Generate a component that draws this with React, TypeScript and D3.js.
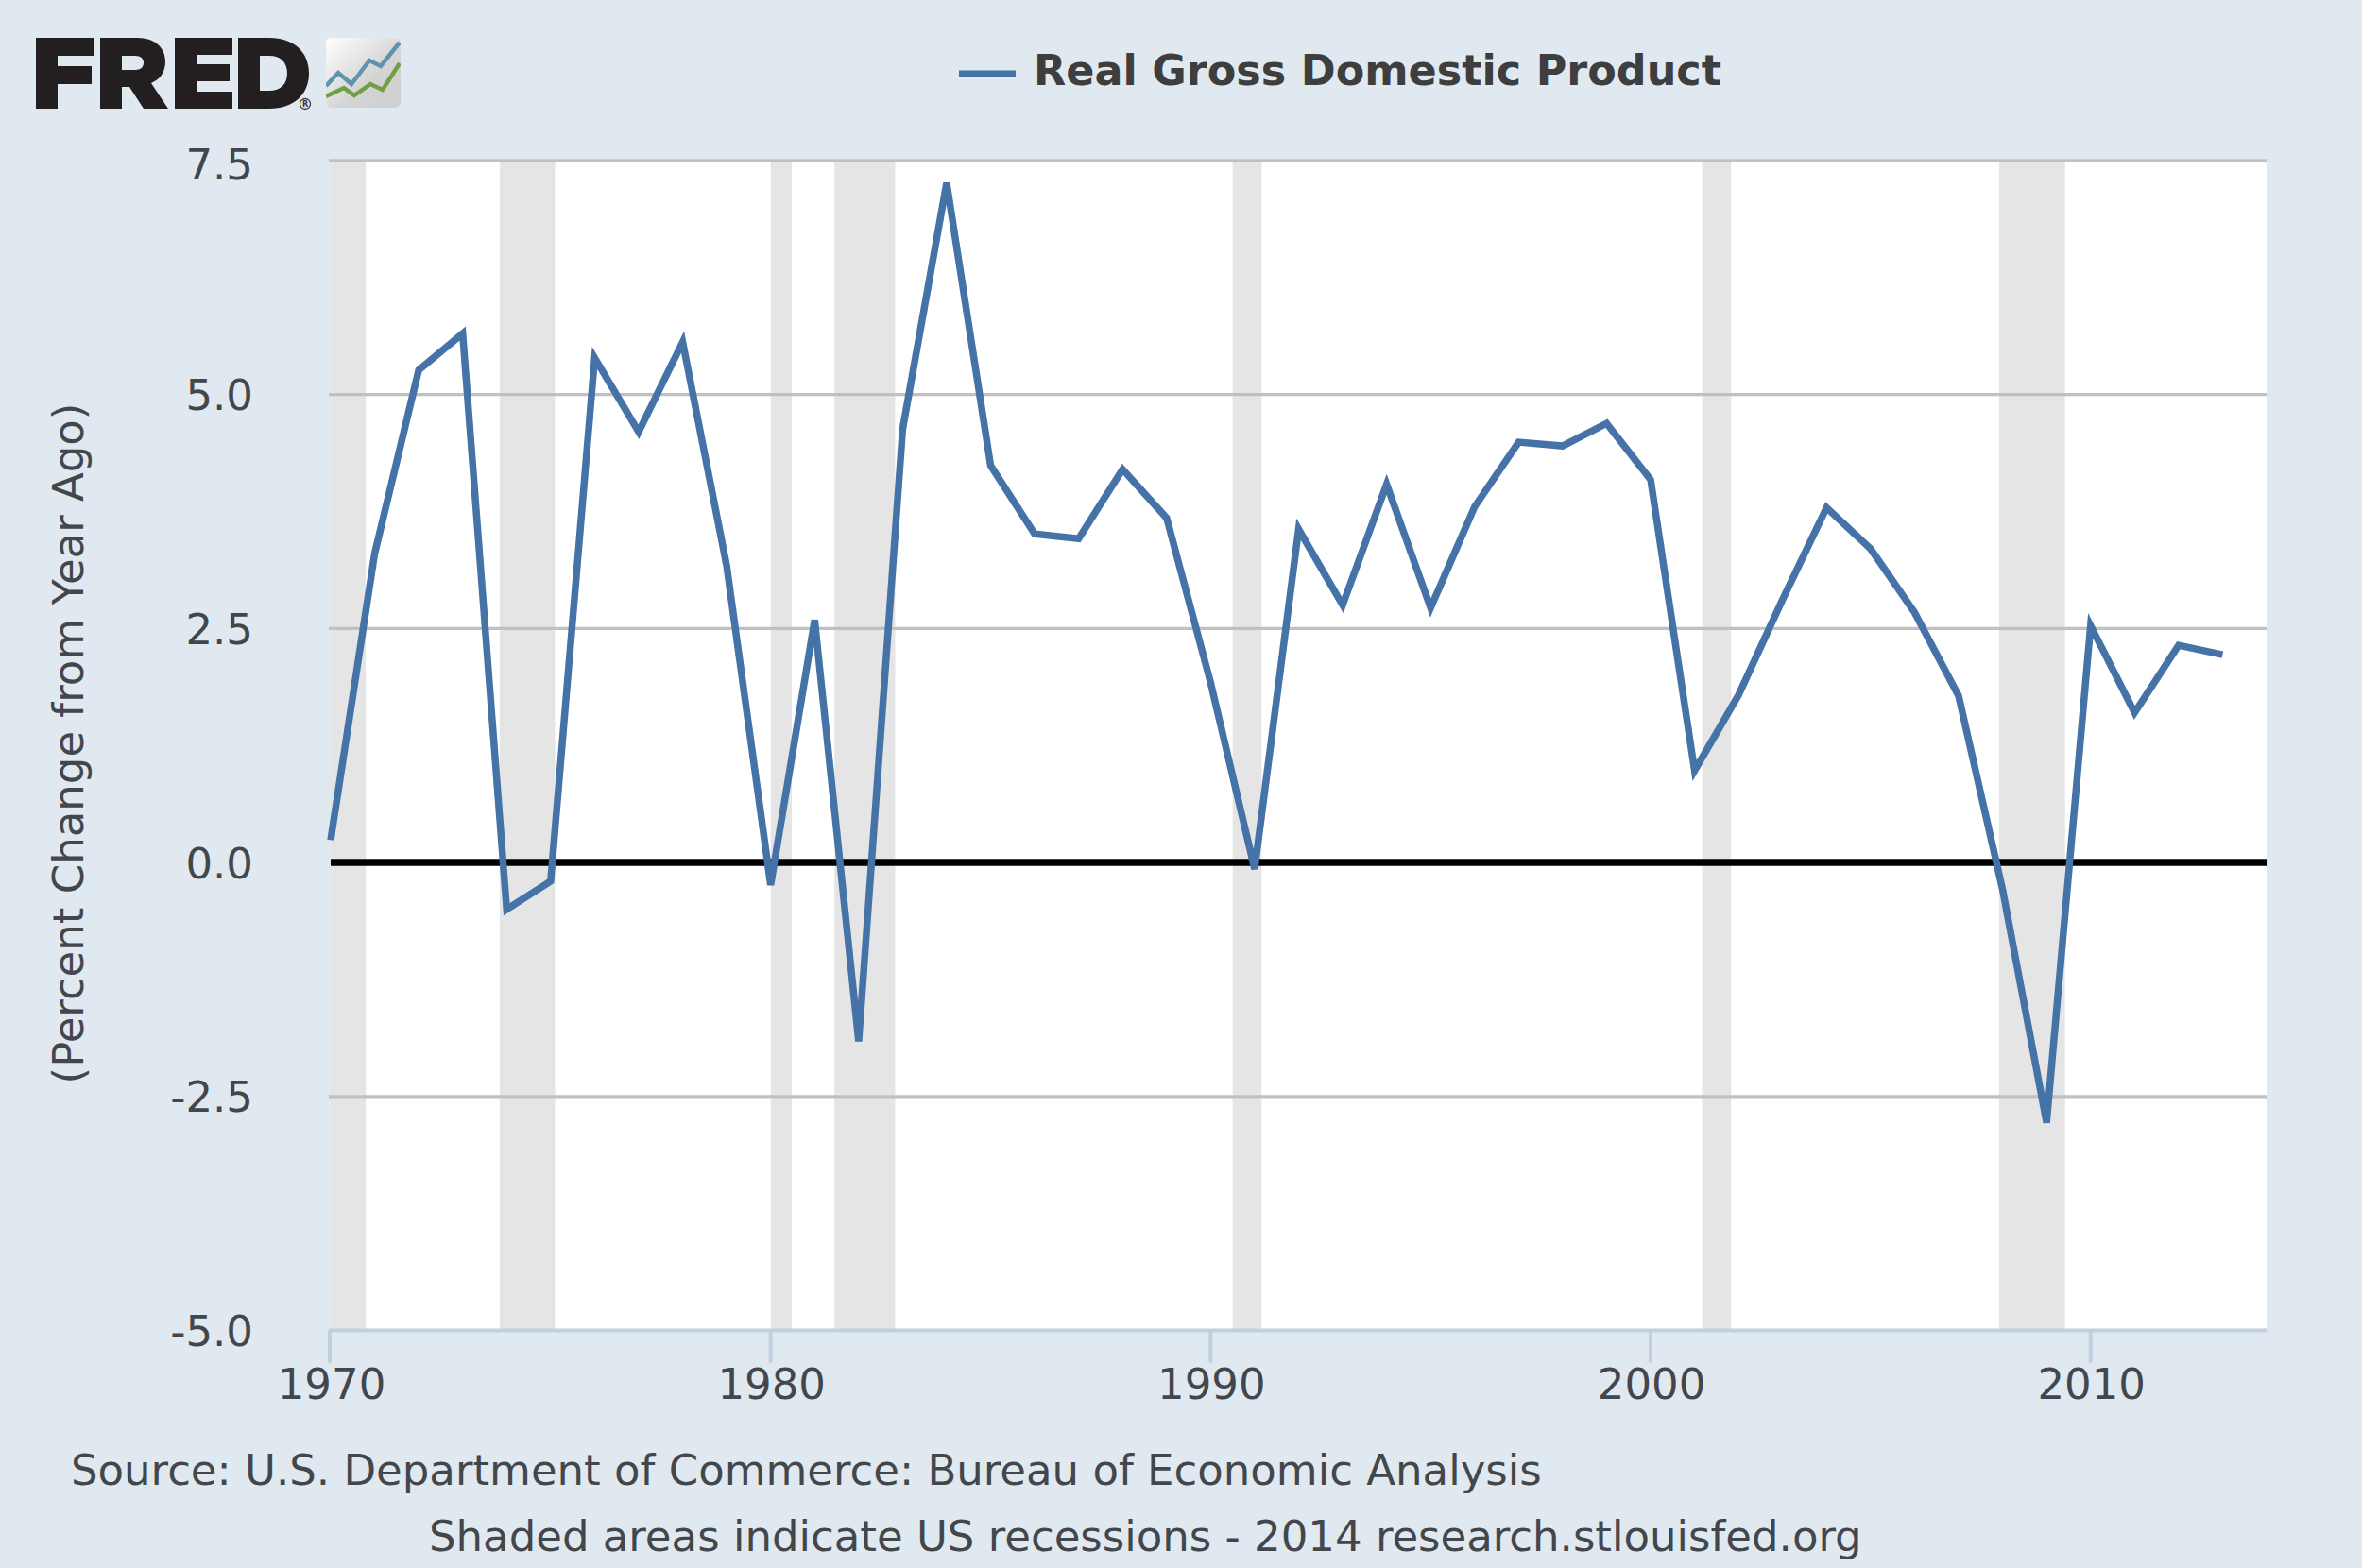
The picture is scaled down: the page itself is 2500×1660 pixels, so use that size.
import React from "react";
import * as d3 from "d3";

const years = d3.range(1970, 2014);
const gdpChange = [0.24,3.3,5.26,5.65,-0.5,-0.2,5.39,4.6,5.56,3.17,-0.24,2.59,-1.91,4.63,7.26,4.24,3.51,3.46,4.2,3.68,1.92,-0.07,3.56,2.75,4.04,2.72,3.8,4.49,4.45,4.69,4.09,0.98,1.79,2.81,3.79,3.35,2.67,1.78,-0.29,-2.78,2.53,1.6,2.32,2.22];
const recessionStarts = [1970,1973.84,1980,1981.45,1990.5,2001.17,2007.92];
const recessionEnds = [1970.8,1975.1,1980.48,1982.83,1991.16,2001.83,2009.42];
const yTicks = [7.5,5,2.5,0,-2.5,-5];
const xTicks = [1970,1980,1990,2000,2010];
const seriesName = "Real Gross Domestic Product";
const yTitle = "(Percent Change from Year Ago)";
const sourceLine = "Source: U.S. Department of Commerce: Bureau of Economic Analysis";
const noteLine = "Shaded areas indicate US recessions - 2014 research.stlouisfed.org";

const W = 2500, H = 1660;
const L = 350, R = 2399, T = 169.8, B = 1408.6;
const FONT = "'DejaVu Sans', Verdana, sans-serif";
const TXT = "#43474b";

export default function App() {
  const x = d3.scaleLinear().domain([1970, 2014]).range([L, R]);
  const y = d3.scaleLinear().domain([-5, 7.5]).range([B, T]);
  const line = d3.line<number>().x((_, i) => x(years[i])).y(d => y(d)).curve(d3.curveLinear);
  return (
    <svg width={W} height={H} viewBox={`0 0 ${W} ${H}`} style={{ position: "absolute", left: 0, top: 0, display: "block" }}>
      <defs>
        <linearGradient id="ico" x1="0" y1="0" x2="1" y2="1">
          <stop offset="0" stopColor="#ffffff" />
          <stop offset="0.6" stopColor="#d4d4d4" />
          <stop offset="1" stopColor="#cfcfcf" />
        </linearGradient>
        <clipPath id="icoClip"><rect x={345} y={40} width={79} height={74} rx={6} /></clipPath>
      </defs>
      <rect width={W} height={H} fill="#e1e9f0" />
      <rect x={L} y={T} width={R - L} height={B - T} fill="#ffffff" />
      {recessionStarts.map((s, i) => (
        <rect key={s} x={x(s)} y={T} width={x(recessionEnds[i]) - x(s)} height={B - T} fill="#e5e5e5" />
      ))}
      {yTicks.filter(t => t !== -5 && t !== 0).map(t => (
        <line key={t} x1={L - 2} x2={R} y1={y(t)} y2={y(t)} stroke="#c0c0c0" strokeWidth={3.3} />
      ))}
      <line x1={L - 2} x2={R} y1={y(-5)} y2={y(-5)} stroke="#c0d0e0" strokeWidth={4} />
      <line x1={L - 1} x2={L - 1} y1={B} y2={B + 34} stroke="#c0d0e0" strokeWidth={4} />
      {xTicks.slice(1).map(t => (
        <line key={t} x1={x(t)} x2={x(t)} y1={B} y2={B + 34} stroke="#c0d0e0" strokeWidth={4} />
      ))}
      <line x1={L} x2={R} y1={y(0)} y2={y(0)} stroke="#000000" strokeWidth={7.5} />
      <path d={line(gdpChange) ?? ""} fill="none" stroke="#4572a7" strokeWidth={7.5} strokeLinejoin="miter" strokeMiterlimit={4} />
      {yTicks.map(t => (
        <text key={t} x={268} y={y(t) + (t === 7.5 ? 20.5 : 16.5)} textAnchor="end" fontFamily={FONT} fontSize={45} fill={TXT}>{t.toFixed(1)}</text>
      ))}
      {xTicks.map(t => (
        <text key={t} x={x(t) + 1} y={1481} textAnchor="middle" fontFamily={FONT} fontSize={45} fill={TXT}>{t}</text>
      ))}
      <text transform="translate(88,787) rotate(-90)" textAnchor="middle" fontFamily={FONT} fontSize={45} fill={TXT}>{yTitle}</text>
      <line x1={1015} x2={1075} y1={78} y2={78} stroke="#4572a7" strokeWidth={7} />
      <text x={1094} y={90} fontFamily={FONT} fontSize={44.5} fontWeight={700} fill="#3e3e3e">{seriesName}</text>
      <text x={75} y={1571.5} fontFamily={FONT} fontSize={45} fill={TXT}>{sourceLine}</text>
      <text x={454} y={1641.5} fontFamily={FONT} fontSize={45} fill={TXT}>{noteLine}</text>
      <g fill="#231f20">
        <path d="M38 40H100V59H61V70H97V89H61V115H38Z" />
        <path fillRule="evenodd" d="M106 40H145C166 40 175 52 175 65C175 77 169 84 160 88L178 115H152L137 92H129V115H106ZM129 59V74H143C149 74 152 71 152 66.5C152 62 149 59 143 59Z" />
        <path d="M185 40H246V58H208V68H243V86H208V97H246V115H185Z" />
        <path fillRule="evenodd" d="M252 40H285C311 40 327 55 327 77.5C327 100 311 115 285 115H252ZM275 59V96H285C297 96 304 89 304 77.5C304 66 297 59 285 59Z" />
      </g>
      <circle cx={323} cy={110} r={5.5} fill="none" stroke="#3a3a3a" strokeWidth={1.3} />
      <text x={323} y={113} textAnchor="middle" fontFamily={FONT} fontSize={8} fontWeight={700} fill="#3a3a3a">R</text>
      <rect x={345} y={40} width={79} height={74} rx={6} fill="url(#ico)" />
      <g clipPath="url(#icoClip)" fill="none" strokeWidth={4.5}>
        <path d="M345 91L358 77L372 89L391 64L403 70L423 45" stroke="#5f93b0" />
        <path d="M345 102L364 93L375 101L392 89L405 95L423 67" stroke="#6fa044" />
      </g>
    </svg>
  );
}
